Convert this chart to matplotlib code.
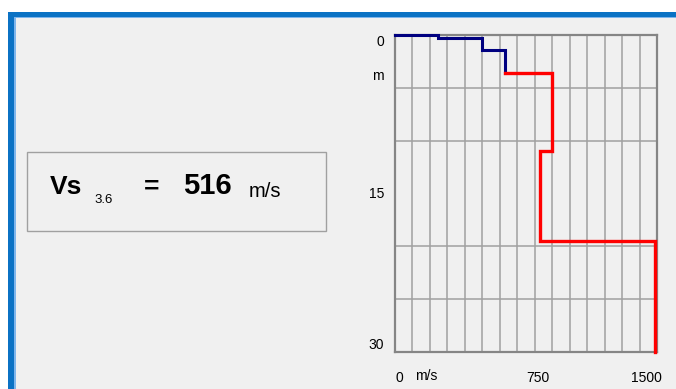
import numpy as np
import matplotlib
matplotlib.use("Agg")
import matplotlib.pyplot as plt
from matplotlib.patches import Rectangle
from matplotlib.transforms import ScaledTranslation

plt.rcParams['font.family'] = ['Liberation Sans', 'DejaVu Sans']

# perfil de Vs: camadas (topo, base, velocidade)
depth_tops = [0.0, 0.33, 1.4, 3.6, 11.0, 19.5]
depth_bottoms = [0.33, 1.4, 3.6, 11.0, 19.5, 30.0]
velocities = [245, 500, 630, 900, 830, 1490]
z_avg = 3.6  # profundidade da média

x_ticks = [0, 750, 1500]
y_ticks = [0, 15, 30]

W, H = 676, 389


def fx(px):
    return px / W


def fy(py):
    return 1 - py / H


def step_profile(tops, bottoms, vels, start_v):
    xs, ys = [start_v], [tops[0]]
    for t, b, v in zip(tops, bottoms, vels):
        xs += [v, v]
        ys += [t, b]
    return xs, ys


# média harmônica até z_avg
n_top = sum(1 for b in depth_bottoms if b <= z_avg)
h = np.array(depth_bottoms[:n_top]) - np.array(depth_tops[:n_top])
vs_avg = z_avg / np.sum(h / np.array(velocities[:n_top]))

fig = plt.figure(figsize=(W / 100, H / 100), dpi=100)
fig.patch.set_facecolor('white')

# moldura da janela
fig.patches.append(Rectangle((fx(8), 0), 1 - fx(8), fy(12), transform=fig.transFigure,
                             facecolor='#0B72C4', edgecolor='none', zorder=-3))
fig.patches.append(Rectangle((fx(14), 0), 1 - fx(14), fy(16.5), transform=fig.transFigure,
                             facecolor='#7FB6EC', edgecolor='none', zorder=-2))
fig.patches.append(Rectangle((fx(16), 0), 1 - fx(16), fy(18), transform=fig.transFigure,
                             facecolor='#F0F0F0', edgecolor='none', zorder=-1))

# caixa com o valor médio
fig.patches.append(Rectangle((fx(27), fy(231)), fx(326) - fx(27), fy(152) - fy(231),
                             transform=fig.transFigure, facecolor='#F0F0F0',
                             edgecolor='#A0A0A0', linewidth=1.0, zorder=1))
fig.text(fx(50), fy(194), 'Vs', fontsize=19, fontweight='bold', ha='left', va='baseline')
fig.text(fx(94), fy(203), f'{z_avg:.1f}', fontsize=9.5, ha='left', va='baseline')
fig.text(fx(144), fy(194), '=', fontsize=19, fontweight='bold', ha='left', va='baseline')
fig.text(fx(183), fy(194), f'{vs_avg:.0f}', fontsize=21, fontweight='bold', ha='left', va='baseline')
fig.text(fx(249), fy(197), 'm/s', fontsize=14.5, ha='left', va='baseline')

ax = fig.add_axes([fx(395), fy(352), fx(657) - fx(395), fy(35) - fy(352)])
ax.set_facecolor('#F0F0F0')

xb, yb = step_profile(depth_tops[:n_top], depth_bottoms[:n_top], velocities[:n_top], 0)
xr, yr = step_profile(depth_tops[n_top:], depth_bottoms[n_top:], velocities[n_top:],
                      velocities[n_top - 1])
ax.plot(xb, yb, color='#000080', linewidth=2.2, solid_joinstyle='miter', zorder=3, clip_on=False)
ax.plot(xr, yr, color='#FF0000', linewidth=2.4, solid_joinstyle='miter', zorder=3, clip_on=False)

ax.set_xlim(0, 1500)
ax.set_ylim(30, 0)
ax.set_xticks(x_ticks)
ax.set_xticklabels([str(t) for t in x_ticks])
ax.set_yticks(y_ticks)
ax.set_yticklabels([str(t) for t in y_ticks])
ax.set_xticks(np.arange(0, 1501, 100), minor=True)
ax.set_yticks(np.arange(0, 31, 5), minor=True)
ax.grid(which='minor', color='#A0A0A0', linewidth=1.1)
ax.grid(which='major', visible=False)
ax.tick_params(which='both', length=0)
ax.tick_params(axis='y', pad=8, labelsize=10)
ax.tick_params(axis='x', pad=14, labelsize=10)

xl = ax.get_xticklabels()
xl[0].set_ha('left')
xl[1].set_ha('left')
xl[2].set_ha('right')
xl[2].set_transform(xl[2].get_transform() + ScaledTranslation(5 / 100, 0, fig.dpi_scale_trans))
yl = ax.get_yticklabels()
yl[0].set_va('top')
yl[1].set_va('center')
yl[2].set_va('bottom')

for s in ax.spines.values():
    s.set_color('#858585')
    s.set_linewidth(1.6)

fig.text(fx(384), fy(76), 'm', fontsize=10, ha='right', va='center')
fig.text(fx(415), fy(376), 'm/s', fontsize=10, ha='left', va='center')

fig.savefig('out.png', dpi=100, facecolor=fig.get_facecolor())
